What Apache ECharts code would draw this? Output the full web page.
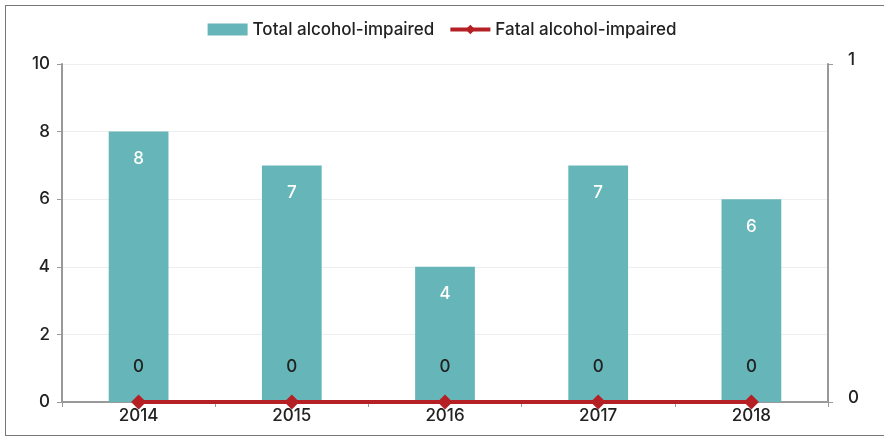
<!DOCTYPE html>
<html><head><meta charset="utf-8">
<script src="https://cdn.jsdelivr.net/npm/echarts@6/dist/echarts.min.js"></script>
<style>
html,body{margin:0;padding:0;background:#fff;}
#frame{position:absolute;left:5px;top:5px;width:884px;height:431px;border-left:1.5px solid #777;border-top:1.5px solid #777;border-bottom:1.5px solid #777;box-sizing:border-box;}
#c{position:absolute;left:0;top:0;width:884px;height:440px;}
</style></head>
<body>
<div id="frame"></div>
<div id="c"></div>
<script>
const categories = ['2014','2015','2016','2017','2018'];
const totalImpaired = [8,7,4,7,6];
const fatalImpaired = [0,0,0,0,0];
const leftTicks = [0,2,4,6,8,10];
const rightTicks = [0,1];

const chart = echarts.init(document.getElementById('c'));
const font = 'Inter, "Open Sans", sans-serif';
chart.setOption({
  animation:false,
  textStyle:{fontFamily:font},
  legend:{
    top:16, left:'center', itemGap:14, itemWidth:40, itemHeight:12,
    textStyle:{fontSize:17, fontWeight:500, color:'#222', fontFamily:font},
    data:[
      {name:'Total alcohol-impaired', icon:'rect'},
      {name:'Fatal alcohol-impaired', lineStyle:{width:4}}
    ]
  },
  grid:{left:62, right:56, top:64, bottom:38, containLabel:false},
  xAxis:{
    type:'category', data:categories, boundaryGap:true,
    axisLine:{lineStyle:{color:'#999', width:2}},
    axisTick:{show:true, alignWithLabel:false, length:5, lineStyle:{color:'#999'}},
    axisLabel:{fontSize:17, fontWeight:500, color:'#222', margin:5, fontFamily:font}
  },
  yAxis:[
    {type:'value', min:0, max:10, interval:2,
     axisLine:{show:true, lineStyle:{color:'#999', width:2}},
     axisTick:{show:true, length:5, lineStyle:{color:'#999'}},
     axisLabel:{fontSize:17, fontWeight:500, color:'#222', margin:12, fontFamily:font},
     splitLine:{lineStyle:{color:'#eee'}}},
    {type:'value', min:0, max:1, interval:1, position:'right',
     axisLine:{show:true, lineStyle:{color:'#999', width:2}},
     axisTick:{show:true, length:5, lineStyle:{color:'#999'}},
     axisLabel:{fontSize:17, fontWeight:500, color:'#222', margin:20, fontFamily:font, verticalAlign:'bottom', lineHeight:9},
     splitLine:{show:false}}
  ],
  series:[
    {name:'Total alcohol-impaired', type:'bar', data:totalImpaired, barWidth:'39%',
     itemStyle:{color:'#66b5b8'},
     label:{show:true, position:'insideTop', distance:19, color:'#fff', fontSize:17, fontWeight:500, fontFamily:font}},
    {name:'Fatal alcohol-impaired', type:'line', yAxisIndex:1, data:fatalImpaired,
     symbol:'diamond', symbolSize:15,
     lineStyle:{color:'#b52025', width:4},
     itemStyle:{color:'#b52025'},
     label:{show:true, position:'top', distance:19, color:'#222', fontSize:17, fontWeight:500, fontFamily:font}}
  ]
});
</script>
</body></html>
